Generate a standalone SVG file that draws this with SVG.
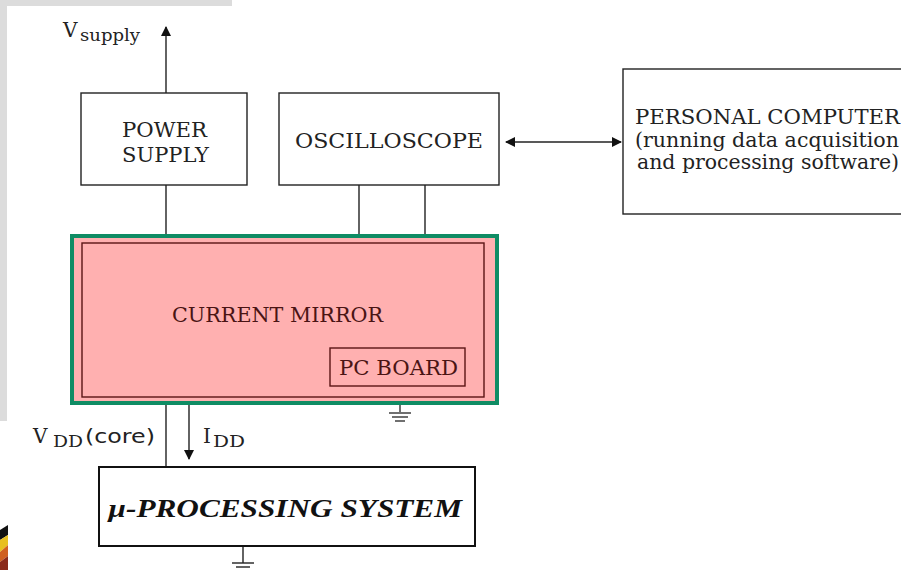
<svg xmlns="http://www.w3.org/2000/svg" width="901" height="570" viewBox="0 0 901 570">
<style>
.box{fill:#fff;stroke:#222;stroke-width:1.4}
.ln{stroke:#222;stroke-width:1.4;fill:none}
.t{font-family:"DejaVu Serif","Liberation Serif",serif;font-size:20px;fill:#222}
.tm{font-family:"DejaVu Serif","Liberation Serif",serif;font-size:20px;fill:#4a1414}
.sub{font-family:"DejaVu Serif","Liberation Serif",serif;font-size:16px;fill:#222}
</style>
<defs>
<marker id="ah" viewBox="0 0 10 10" refX="9" refY="5" markerWidth="10" markerHeight="10" markerUnits="userSpaceOnUse" orient="auto-start-reverse">
<path d="M0,0 L10,5 L0,10 z" fill="#111"/>
</marker>
</defs>
<rect width="901" height="570" fill="#fff"/>
<g id="background">
<rect x="0" y="0" width="232" height="6" fill="#dcdcdc"/>
<rect x="0" y="0" width="7" height="421" fill="#dcdcdc"/>
<g>
<polygon points="0,530 8,525 8,535 0,540" fill="#111"/>
<polygon points="0,540 8,535 8,545 0,552" fill="#e8c020"/>
<polygon points="0,552 8,545 8,556 0,562" fill="#d06020"/>
<polygon points="0,562 8,556 8,570 0,570" fill="#8a2a1a"/>
</g>
</g>
<g id="connectors">
<line class="ln" x1="166" y1="93" x2="166" y2="27" marker-end="url(#ah)"/>
<line class="ln" x1="166" y1="185" x2="166" y2="243"/>
<line class="ln" x1="359" y1="185" x2="359" y2="243"/>
<line class="ln" x1="425" y1="185" x2="425" y2="243"/>
<line class="ln" x1="506" y1="142" x2="621" y2="142" marker-start="url(#ah)" marker-end="url(#ah)"/>
<line class="ln" x1="166" y1="397" x2="166" y2="467"/>
<line class="ln" x1="189" y1="404" x2="189" y2="459" marker-end="url(#ah)"/>
<g id="ground1">
<line x1="400" y1="386" x2="400" y2="412" stroke="#333" stroke-width="1.4"/>
<line x1="389" y1="413" x2="411" y2="413" stroke="#333" stroke-width="1.4"/>
<line x1="392" y1="417" x2="408" y2="417" stroke="#333" stroke-width="1.4"/>
<line x1="395" y1="421" x2="405" y2="421" stroke="#333" stroke-width="1.4"/>
</g>
<g id="ground2">
<line x1="243" y1="546" x2="243" y2="563" stroke="#222" stroke-width="1.4"/>
<line x1="232" y1="563" x2="254" y2="563" stroke="#222" stroke-width="1.4"/>
<line x1="236" y1="567" x2="250" y2="567" stroke="#222" stroke-width="1.4"/>
</g>
</g>
<g id="vsupply-label">
<text class="t" x="63" y="37" font-size="21">V</text>
<text class="sub" x="80" y="41" textLength="60" lengthAdjust="spacingAndGlyphs">supply</text>
</g>
<g id="power-supply">
<rect class="box" x="81" y="93" width="166" height="92"/>
<text class="t" x="122" y="137" textLength="85" lengthAdjust="spacingAndGlyphs">POWER</text>
<text class="t" x="122" y="162" textLength="87" lengthAdjust="spacingAndGlyphs">SUPPLY</text>
</g>
<g id="oscilloscope">
<rect class="box" x="279" y="93" width="220" height="92"/>
<text class="t" x="295" y="148" textLength="188" lengthAdjust="spacingAndGlyphs">OSCILLOSCOPE</text>
</g>
<g id="personal-computer">
<rect class="box" x="623" y="69" width="290" height="145"/>
<text class="t" x="635" y="124" textLength="265" lengthAdjust="spacingAndGlyphs">PERSONAL COMPUTER</text>
<text class="t" x="635" y="147" textLength="264" lengthAdjust="spacingAndGlyphs">(running data acquisition</text>
<text class="t" x="637" y="169" textLength="262" lengthAdjust="spacingAndGlyphs">and processing software)</text>
</g>
<g id="current-mirror">
<rect x="72" y="236" width="425" height="167" fill="#ffb0b0" stroke="#0f8c64" stroke-width="4"/>
<rect x="82" y="243" width="402" height="154" fill="#ffb0b0" stroke="#5a1414" stroke-width="1.4"/>
<text class="tm" x="172" y="322" textLength="211" lengthAdjust="spacingAndGlyphs">CURRENT MIRROR</text>
</g>
<g id="pc-board">
<rect x="330" y="348" width="135" height="38" fill="#ffb0b0" stroke="#5a1414" stroke-width="1.4"/>
<text class="tm" x="339" y="375" textLength="119" lengthAdjust="spacingAndGlyphs">PC BOARD</text>
</g>
<g id="vdd-label">
<text class="t" x="33" y="443" font-size="20">V</text>
<text class="sub" x="53" y="447" textLength="30" lengthAdjust="spacingAndGlyphs">DD</text>
<text x="85" y="443" font-family="'DejaVu Sans','Liberation Sans',sans-serif" font-size="19" fill="#222" textLength="70" lengthAdjust="spacingAndGlyphs">(core)</text>
</g>
<g id="idd-label">
<text class="t" x="203" y="443" font-size="20">I</text>
<text class="sub" x="213" y="447" textLength="32" lengthAdjust="spacingAndGlyphs">DD</text>
</g>
<g id="processing-system">
<rect x="99" y="467" width="376" height="79" fill="#fff" stroke="#111" stroke-width="2"/>
<text x="108" y="517" font-family="'Liberation Serif','DejaVu Serif',serif" font-size="25" font-weight="bold" font-style="italic" fill="#111" textLength="354" lengthAdjust="spacingAndGlyphs">µ-PROCESSING SYSTEM</text>
</g>
</svg>
